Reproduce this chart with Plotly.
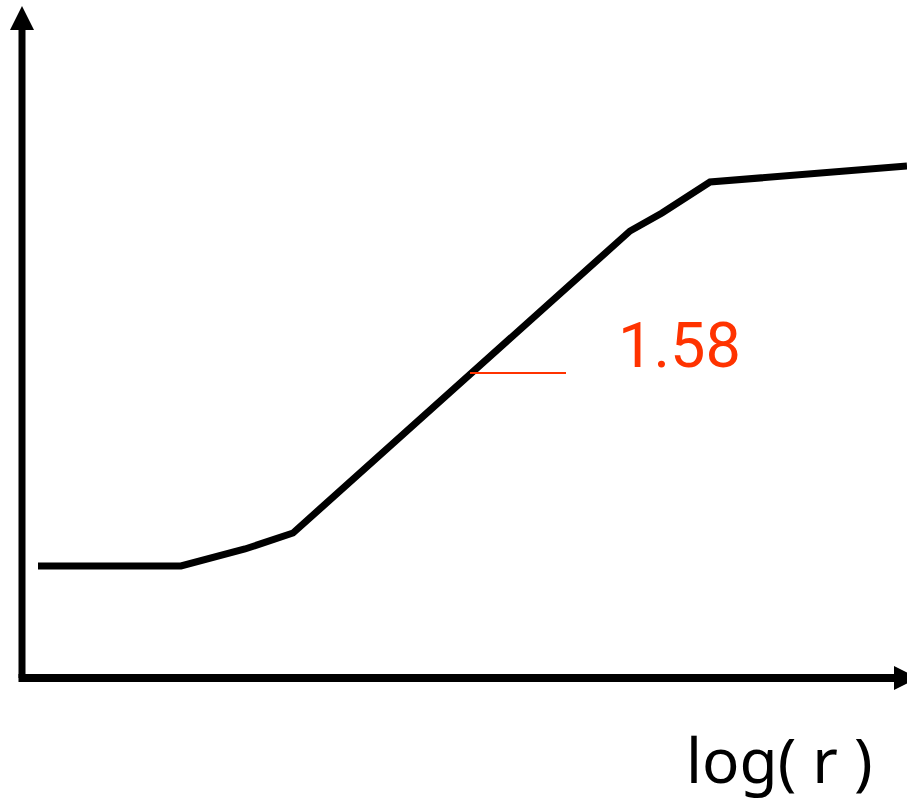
import plotly.graph_objects as go

# Correlation-sum curve: log C(r) against log(r)
log_r = [0.16, 1.59, 2.23, 2.71, 6.08, 6.40, 6.88, 8.85]
log_c = [1.12, 1.12, 1.29, 1.45, 4.47, 4.65, 4.96, 5.12]

# Slope marker on the linear scaling region
slope_label = "1.58"
marker_x = [4.48, 5.44]
marker_y = [3.05, 3.05]

x_label = "log( r )"

X_RANGE = [-0.22, 8.85]
Y_RANGE = [-1.21, 6.78]

fig = go.Figure()

fig.add_trace(go.Scatter(
    x=log_r, y=log_c, mode="lines",
    line=dict(color="black", width=7), hoverinfo="skip", showlegend=False,
))
fig.add_trace(go.Scatter(
    x=marker_x, y=marker_y, mode="lines",
    line=dict(color="#ff3300", width=2), hoverinfo="skip", showlegend=False,
))

# Axes drawn as arrows
shapes = [
    dict(type="line", xref="x", yref="y", x0=0, y0=0, x1=0, y1=6.50,
         line=dict(color="black", width=7)),
    dict(type="path", xref="x", yref="y",
         path="M -0.12,6.48 L 0.12,6.48 L 0,6.72 Z",
         fillcolor="black", line=dict(width=0)),
    dict(type="line", xref="x", yref="y", x0=-0.035, y0=0, x1=8.74, y1=0,
         line=dict(color="black", width=8)),
    dict(type="path", xref="x", yref="y",
         path="M 8.72,-0.12 L 8.72,0.12 L 8.96,0 Z",
         fillcolor="black", line=dict(width=0)),
]

annotations = [
    dict(x=5.94, y=3.33, xref="x", yref="y", text=slope_label, showarrow=False,
         xanchor="left", yanchor="middle",
         font=dict(family="Roboto", size=63, color="#ff3300")),
    dict(x=6.62, y=-0.81, xref="x", yref="y", text=x_label, showarrow=False,
         xanchor="left", yanchor="middle",
         font=dict(family="Noto Sans", size=62, color="black")),
]

fig.update_layout(
    width=907, height=799,
    margin=dict(l=0, r=0, t=0, b=0),
    paper_bgcolor="white", plot_bgcolor="white",
    xaxis=dict(range=X_RANGE, visible=False, fixedrange=True),
    yaxis=dict(range=Y_RANGE, visible=False, fixedrange=True),
    shapes=shapes, annotations=annotations,
)

fig.write_html("out.html", config=dict(displayModeBar=False))
